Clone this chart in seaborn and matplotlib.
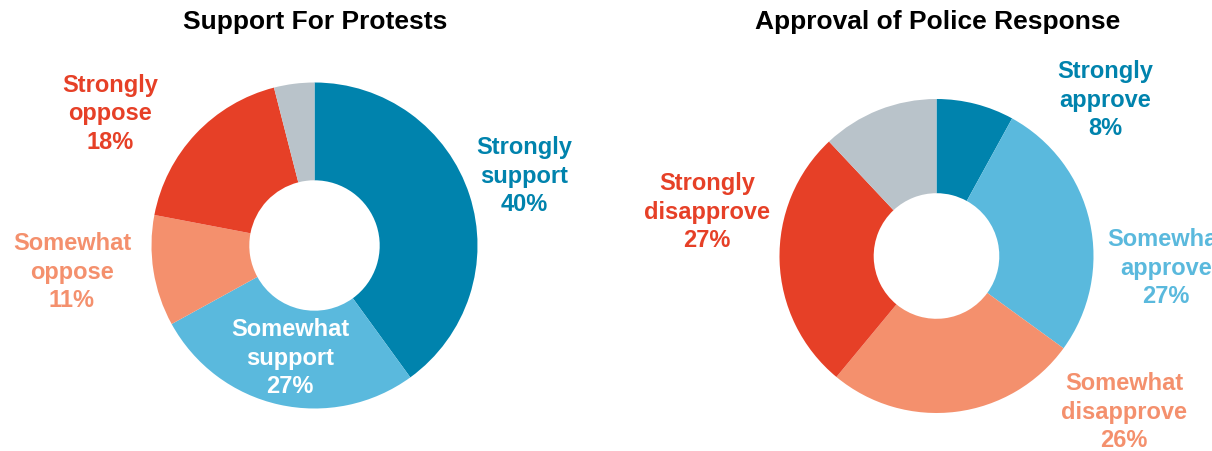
import matplotlib
matplotlib.use("Agg")
import matplotlib.pyplot as plt
import seaborn as sns

sns.set_theme(style="white")
plt.rcParams['font.family'] = ['Liberation Sans', 'DejaVu Sans']

# Data
protest_labels = ["Strongly\nsupport", "Somewhat\nsupport", "Somewhat\noppose", "Strongly\noppose", "Unsure"]
protest_values = [40, 27, 11, 18, 4]
police_labels = ["Strongly\napprove", "Somewhat\napprove", "Somewhat\ndisapprove", "Strongly\ndisapprove", "Unsure"]
police_values = [8, 27, 26, 27, 12]
titles = ["Support For Protests", "Approval of Police Response"]

palette = sns.color_palette(["#0083AD", "#5AB9DD", "#F4906D", "#E64027", "#B9C3CA"])
label_colors_left = ["#0083AD", "#FFFFFF", "#F4906D", "#E64027"]
label_colors_right = ["#0083AD", "#5AB9DD", "#F4906D", "#E64027"]

W, H = 1212, 451
fig = plt.figure(figsize=(W / 100, H / 100), dpi=100)
fig.patch.set_facecolor("white")

def add_pie(cx, cy, r, values):
    ax = fig.add_axes([(cx - r) / W, (H - cy - r) / H, 2 * r / W, 2 * r / H])
    ax.pie(values, colors=palette, startangle=90, counterclock=False,
           radius=1, wedgeprops=dict(width=0.6, linewidth=0))
    ax.set_xlim(-1, 1)
    ax.set_ylim(-1, 1)
    ax.axis("off")
    return ax

add_pie(314.5, 245.5, 163, protest_values)
add_pie(936.5, 256, 157, police_values)

def ftext(x, y, s, **kw):
    fig.text(x / W, 1 - y / H, s, ha="center", va="center", fontweight="bold", **kw)

ftext(315, 22, titles[0], fontsize=19, color="black")
ftext(938, 22, titles[1], fontsize=19, color="black")

left_pos = [(524, 176), (290, 358), (72, 272), (110, 114)]
right_pos = [(1105, 100), (1166, 268), (1124, 412), (707, 212)]

for (x, y), lab, v, c in zip(left_pos, protest_labels, protest_values, label_colors_left):
    ftext(x, y, f"{lab}\n{v}%", fontsize=17, color=c, linespacing=1.28)
for (x, y), lab, v, c in zip(right_pos, police_labels, police_values, label_colors_right):
    ftext(x, y, f"{lab}\n{v}%", fontsize=17, color=c, linespacing=1.28)

fig.savefig("out.png", dpi=100, facecolor="white")
